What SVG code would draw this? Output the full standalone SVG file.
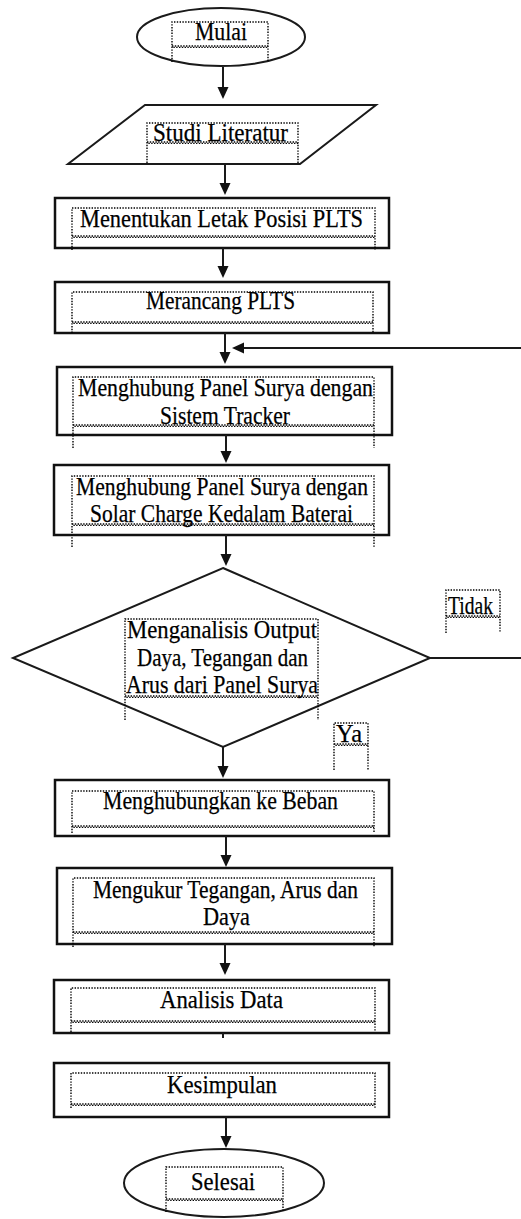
<svg xmlns="http://www.w3.org/2000/svg" width="521" height="1219" viewBox="0 0 521 1219">
<style>
.box{fill:#fff;stroke:#111;stroke-width:2.5}
.shape{fill:#fff;stroke:#1a1a1a;stroke-width:2}
.dot{fill:none;stroke:#000;stroke-width:1.4;stroke-dasharray:1.4 1.4}
.wv{fill:none;stroke:#000;stroke-width:1.3;stroke-dasharray:1.4 1.4}
.wv2{fill:none;stroke:#000;stroke-width:1.3;stroke-dasharray:1.4 1.4;stroke-dashoffset:1.4}
.t{font-family:"Liberation Serif","Times New Roman",serif;font-size:25px;fill:#000;stroke:#000;stroke-width:0.25}
.conn{fill:none;stroke:#1a1a1a;stroke-width:2}
</style>
<defs>
<marker id="ah" markerUnits="userSpaceOnUse" markerWidth="12" markerHeight="12" viewBox="0 0 12 12" refX="9" refY="6" orient="auto">
<path d="M0,0.5 L12,6 L0,11.5 z" fill="#111"/>
</marker>
</defs>
<rect width="521" height="1219" fill="#fff"/>

<g id="n-mulai">
<ellipse cx="221" cy="37" rx="84" ry="29" class="shape"/>
<path class="dot" d="M172,62 V22 H268 V62"/>
<path class="wv" d="M172,46 H268"/><path class="wv2" d="M172,47.4 H268"/>
<text class="t" x="195" y="40" textLength="52" lengthAdjust="spacingAndGlyphs">Mulai</text>
</g>

<g id="n-studi">
<polygon class="shape" points="145,105 376,105 300,164 68,164"/>
<path class="dot" d="M147,163 V123 H298 V163"/>
<path class="wv" d="M147,142 H298"/><path class="wv2" d="M147,143.4 H298"/>
<text class="t" x="153" y="141" textLength="135" lengthAdjust="spacingAndGlyphs">Studi Literatur</text>
</g>

<g id="n-letak">
<rect class="box" x="55" y="198" width="334" height="50"/>
<path class="dot" d="M72,250 V208 H375 V250"/>
<path class="wv" d="M72,236 H375"/><path class="wv2" d="M72,237.4 H375"/>
<text class="t" x="80" y="227" textLength="283" lengthAdjust="spacingAndGlyphs">Menentukan Letak Posisi PLTS</text>
</g>

<g id="n-rancang">
<rect class="box" x="55" y="282" width="334" height="51"/>
<path class="dot" d="M72,333 V292 H373 V333"/>
<path class="wv" d="M72,322 H373"/><path class="wv2" d="M72,323.4 H373"/>
<text class="t" x="146" y="309" textLength="149" lengthAdjust="spacingAndGlyphs">Merancang PLTS</text>
</g>

<g id="n-tracker">
<rect class="box" x="57" y="367" width="335" height="68"/>
<path class="dot" d="M73,448 V377 H374 V448"/>
<path class="wv" d="M73,425 H374"/><path class="wv2" d="M73,426.4 H374"/>
<text class="t" x="78" y="396" textLength="295" lengthAdjust="spacingAndGlyphs">Menghubung Panel Surya dengan</text>
<text class="t" x="160" y="424" textLength="130" lengthAdjust="spacingAndGlyphs">Sistem Tracker</text>
</g>

<g id="n-charge">
<rect class="box" x="54" y="465" width="335" height="70"/>
<path class="dot" d="M72,547 V476 H374 V547"/>
<path class="wv" d="M72,524 H374"/><path class="wv2" d="M72,525.4 H374"/>
<text class="t" x="76" y="495" textLength="292" lengthAdjust="spacingAndGlyphs">Menghubung Panel Surya dengan</text>
<text class="t" x="90" y="522" textLength="263" lengthAdjust="spacingAndGlyphs">Solar Charge Kedalam Baterai</text>
</g>

<g id="n-analisis-output">
<polygon class="shape" points="223,568 430,658 223,747 13,658"/>
<path class="dot" d="M125,720 V619 H318 V720"/>
<path class="wv" d="M125,696 H318"/><path class="wv2" d="M125,697.4 H318"/>
<text class="t" x="127" y="638" textLength="190" lengthAdjust="spacingAndGlyphs">Menganalisis Output</text>
<text class="t" x="137" y="666" textLength="171" lengthAdjust="spacingAndGlyphs">Daya, Tegangan dan</text>
<text class="t" x="126" y="693" textLength="192" lengthAdjust="spacingAndGlyphs">Arus dari Panel Surya</text>
</g>

<g id="n-beban">
<rect class="box" x="55" y="780" width="334" height="56"/>
<path class="dot" d="M72,833 V791 H374 V833"/>
<path class="wv" d="M72,826 H374"/><path class="wv2" d="M72,827.4 H374"/>
<text class="t" x="103" y="809" textLength="235" lengthAdjust="spacingAndGlyphs">Menghubungkan ke Beban</text>
</g>

<g id="n-ukur">
<rect class="box" x="57" y="868" width="335" height="76"/>
<path class="dot" d="M73,947 V878 H374 V947"/>
<path class="wv" d="M73,932 H374"/><path class="wv2" d="M73,933.4 H374"/>
<text class="t" x="93" y="898" textLength="265" lengthAdjust="spacingAndGlyphs">Mengukur Tegangan, Arus dan</text>
<text class="t" x="203" y="925" textLength="47" lengthAdjust="spacingAndGlyphs">Daya</text>
</g>

<g id="n-data">
<rect class="box" x="54" y="980" width="335" height="53"/>
<path class="dot" d="M71,1032 V988 H375 V1032"/>
<path class="wv" d="M71,1021 H375"/><path class="wv2" d="M71,1022.4 H375"/>
<text class="t" x="160" y="1008" textLength="123" lengthAdjust="spacingAndGlyphs">Analisis Data</text>
</g>

<g id="n-kesimpulan">
<rect class="box" x="54" y="1063" width="335" height="54"/>
<path class="dot" d="M71,1108 V1073 H375 V1108"/>
<path class="wv" d="M71,1104 H375"/><path class="wv2" d="M71,1105.4 H375"/>
<text class="t" x="167" y="1093" textLength="110" lengthAdjust="spacingAndGlyphs">Kesimpulan</text>
</g>

<g id="n-selesai">
<ellipse cx="224" cy="1183" rx="100" ry="34" class="shape"/>
<path class="dot" d="M166,1212 V1167 H283 V1212"/>
<path class="wv" d="M166,1199 H283"/><path class="wv2" d="M166,1200.4 H283"/>
<text class="t" x="191" y="1190" textLength="64" lengthAdjust="spacingAndGlyphs">Selesai</text>
</g>

<g id="connectors">
<path class="conn" d="M223,67 V96" marker-end="url(#ah)"/>
<path class="conn" d="M225,164 V192" marker-end="url(#ah)"/>
<path class="conn" d="M223,248 V275" marker-end="url(#ah)"/>
<path class="conn" d="M225,333 V361" marker-end="url(#ah)"/>
<path class="conn" d="M226,435 V460" marker-end="url(#ah)"/>
<path class="conn" d="M226,535 V563" marker-end="url(#ah)"/>
<path class="conn" d="M223,747 V775" marker-end="url(#ah)"/>
<path class="conn" d="M226,836 V864" marker-end="url(#ah)"/>
<path class="conn" d="M225,944 V972" marker-end="url(#ah)"/>
<path class="conn" d="M223,1033 V1038"/>
<path class="conn" d="M226,1117 V1145" marker-end="url(#ah)"/>
<path class="conn" d="M430,658 H523 V348 H235" marker-end="url(#ah)"/>
<g id="lbl-tidak">
<path class="dot" d="M446,633 V590 H500 V633"/>
<path class="wv" d="M446,616 H500"/><path class="wv2" d="M446,617.4 H500"/>
<text class="t" x="448" y="614" textLength="45" lengthAdjust="spacingAndGlyphs">Tidak</text>
</g>
<g id="lbl-ya">
<path class="dot" d="M334,770 V723 H368 V770"/>
<path class="wv" d="M334,744 H368"/><path class="wv2" d="M334,745.4 H368"/>
<text class="t" x="336" y="742" textLength="26" lengthAdjust="spacingAndGlyphs">Ya</text>
</g>
</g>
</svg>
